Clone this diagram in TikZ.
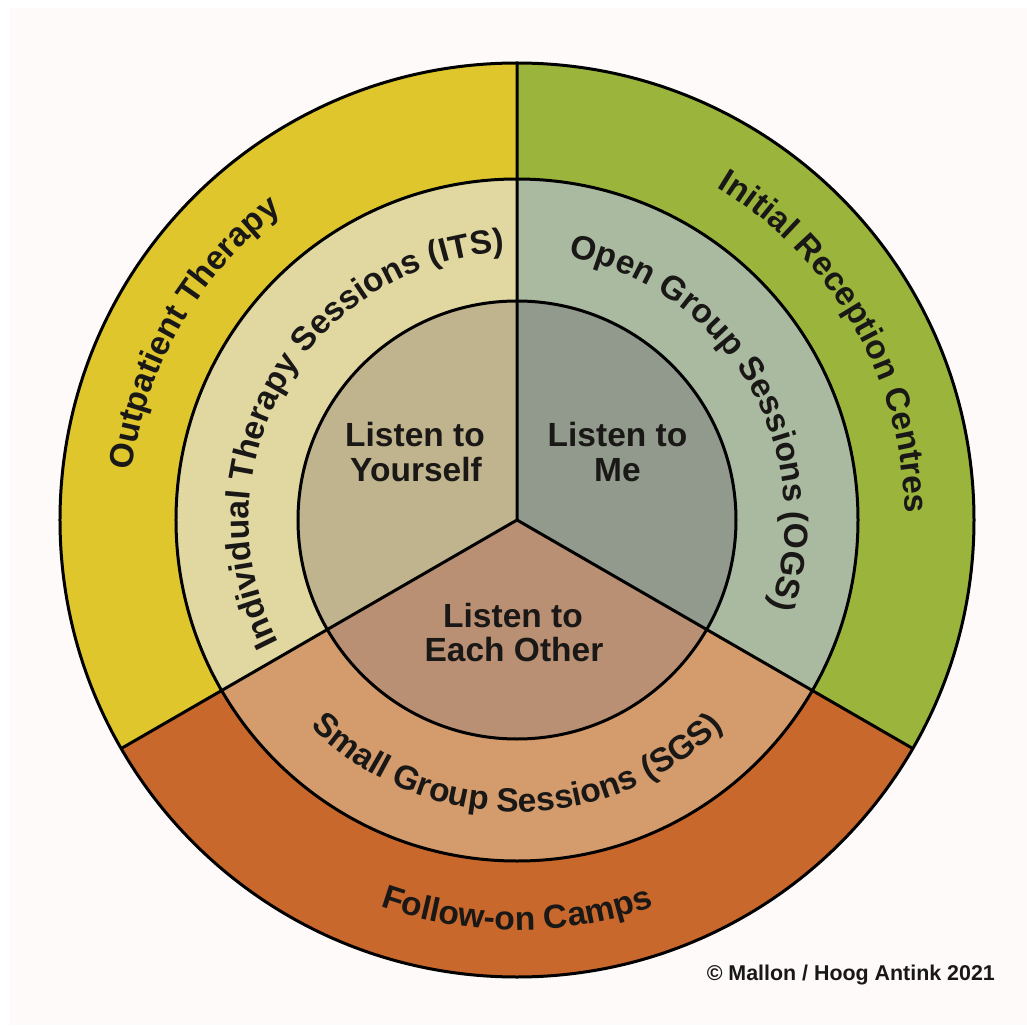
\documentclass[tikz,border=0pt]{standalone}
\usepackage{fontspec}
\setmainfont{Liberation Sans}
\usetikzlibrary{decorations.text}
\definecolor{bgc}{RGB}{253,250,249}
\definecolor{oy}{RGB}{222,198,44}
\definecolor{og}{RGB}{155,181,60}
\definecolor{oo}{RGB}{200,104,44}
\definecolor{my}{RGB}{225,215,160}
\definecolor{mg}{RGB}{170,186,160}
\definecolor{mo}{RGB}{212,156,108}
\definecolor{iy}{RGB}{192,180,142}
\definecolor{ig}{RGB}{145,154,140}
\definecolor{io}{RGB}{186,144,116}
\definecolor{txt}{RGB}{26,24,22}
\newcommand\curvefont{\fontsize{33.5}{40}\selectfont\bfseries\color{txt}}
\tikzset{
  ring/.style={line width=3pt, draw=black},
  lbl/.style={font=\fontsize{33.5}{40}\selectfont\bfseries, text=txt, anchor=base, inner sep=0pt},
  arctext/.style={decorate, decoration={text along path, text align=center, text={|\curvefont|#1}}}
}
\begin{document}
\begin{tikzpicture}[x=1pt,y=1pt]
\useasboundingbox (-517,-505) rectangle (510,520);
\fill[white] (-517,-505) rectangle (510,520);
\fill[bgc] (-507,-505) rectangle (510,512);
\coordinate (c) at (0,0);
% outer ring sectors
\fill[oy] (c) -- (210:457) arc[start angle=210,end angle=90,radius=457] -- cycle;
\fill[og] (c) -- (90:457) arc[start angle=90,end angle=-30,radius=457] -- cycle;
\fill[oo] (c) -- (-30:457) arc[start angle=-30,end angle=-150,radius=457] -- cycle;
% middle ring sectors
\fill[my] (c) -- (210:341) arc[start angle=210,end angle=90,radius=341] -- cycle;
\fill[mg] (c) -- (90:341) arc[start angle=90,end angle=-30,radius=341] -- cycle;
\fill[mo] (c) -- (-30:341) arc[start angle=-30,end angle=-150,radius=341] -- cycle;
% inner sectors
\fill[iy] (c) -- (210:219) arc[start angle=210,end angle=90,radius=219] -- cycle;
\fill[ig] (c) -- (90:219) arc[start angle=90,end angle=-30,radius=219] -- cycle;
\fill[io] (c) -- (-30:219) arc[start angle=-30,end angle=-150,radius=219] -- cycle;
% outlines
\coordinate (t) at (90:457);
\coordinate (l) at (210:457);
\coordinate (r) at (330:457);
\draw[ring] (c) circle[radius=457];
\draw[ring] (c) circle[radius=341];
\draw[ring] (c) circle[radius=219];
\draw[ring, line join=miter] (t) -- (c) -- (l);
\draw[ring] (c) -- (r);
% curved labels
\path[arctext={Outpatient Therapy}] (210:388) arc[start angle=210,end angle=90,radius=388];
\path[arctext={Initial Reception Centres}] (90:388) arc[start angle=90,end angle=-30,radius=388];
\path[arctext={Follow-on Camps}] (210:410) arc[start angle=210,end angle=330,radius=410];
\path[arctext={Individual Therapy Sessions (ITS)}] (210:268) arc[start angle=210,end angle=90,radius=268];
\path[arctext={Open Group Sessions (OGS)}] (90:268) arc[start angle=90,end angle=-30,radius=268];
\path[arctext={Small Group Sessions (SGS)}] (210:292) arc[start angle=210,end angle=330,radius=292];
% centre labels
\node[lbl] (ly1) at (-102,73.3) {Listen to};
\node[lbl] (ly2) at (-101,38.3) {Yourself};
\node[lbl] (lm1) at (100.5,73.3) {Listen to};
\node[lbl] (lm2) at (100.5,38.3) {Me};
\node[lbl] (le1) at (-4,-107.7) {Listen to};
\node[lbl] (le2) at (-3,-141) {Each Other};
% copyright
\node[font=\fontsize{21.4}{25}\selectfont\bfseries, text=txt, anchor=base east, inner sep=0pt] (copy) at (478,-460) {© Mallon / Hoog Antink 2021};
\end{tikzpicture}
\end{document}
